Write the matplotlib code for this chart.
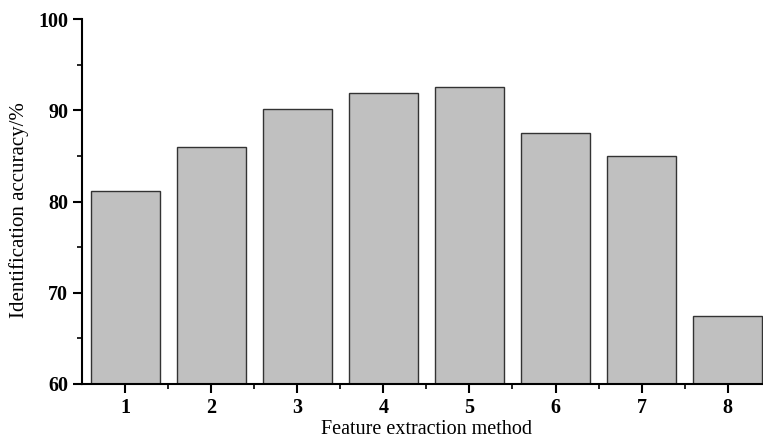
import matplotlib
matplotlib.use('Agg')
import matplotlib.pyplot as plt
from matplotlib.ticker import MultipleLocator

# data
methods = [1, 2, 3, 4, 5, 6, 7, 8]
accuracy = [81.2, 86.0, 90.1, 91.9, 92.5, 87.5, 85.0, 67.5]

plt.rcParams['font.family'] = ['Liberation Serif', 'DejaVu Serif']

fig = plt.figure(figsize=(7.63, 4.38), dpi=100)
ax = fig.add_axes([0.1075, 0.1233, 0.9027, 0.8333])

ax.bar(methods, accuracy, width=0.8, bottom=0, color='#c0c0c0',
       edgecolor='#333333', linewidth=1.0, zorder=2)

ax.set_xlim(0.5, 8.5)
ax.set_ylim(60, 100)
ax.set_xticks(methods)
ax.set_yticks([60, 70, 80, 90, 100])
ax.xaxis.set_minor_locator(plt.FixedLocator([m + 0.5 for m in methods]))
ax.yaxis.set_minor_locator(MultipleLocator(5))

for side in ['top', 'right']:
    ax.spines[side].set_visible(False)
for side in ['left', 'bottom']:
    ax.spines[side].set_linewidth(1.5)

ax.tick_params(axis='both', which='major', direction='out', length=6.5, width=1.5,
               labelsize=14.5)
ax.tick_params(axis='both', which='minor', direction='out', length=3.5, width=1.2)
for lbl in ax.get_xticklabels() + ax.get_yticklabels():
    lbl.set_fontweight('bold')

ax.set_xlabel('Feature extraction method', fontsize=14.5)
ax.set_ylabel('Identification accuracy/%', fontsize=15)
ax.xaxis.set_label_coords(0.5, -0.10)
ax.yaxis.set_label_coords(-0.077, 0.477)

plt.savefig('out.png', dpi=100)
